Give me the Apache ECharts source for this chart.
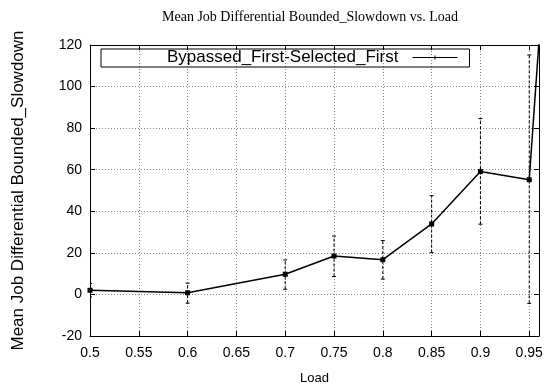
<!DOCTYPE html>
<html>
<head>
<meta charset="utf-8">
<script src="https://cdn.jsdelivr.net/npm/echarts@6/dist/echarts.min.js"></script>
<style>
  html, body { margin: 0; padding: 0; background: #fff; }
  #chart { width: 549px; height: 392px; }
</style>
</head>
<body>
<div id="chart"></div>
<script>
// Mean job differential bounded slowdown, with error bars, per load level
const loads = [0.5, 0.6, 0.7, 0.75, 0.8, 0.85, 0.9, 0.95, 0.96];
const means = [2.0, 0.8, 9.7, 18.5, 16.7, 33.9, 59.1, 55.2, 122];
const lows  = [-1.2, -4.2, 2.5, 8.6, 7.4, 20.1, 33.8, -4.3, null];
const highs = [5.3, 5.4, 16.6, 28.1, 25.9, 47.5, 84.6, 115.2, null];
const seriesName = 'Bypassed_First-Selected_First';

const lineData = loads.map((x, i) => [x, means[i]]);
const errData = loads.map((x, i) => [x, lows[i], highs[i]]).filter(d => d[1] !== null);

const sans = '"Liberation Sans", Arial, Helvetica, sans-serif';
const serif = '"Liberation Serif", "Times New Roman", serif';

const chart = echarts.init(document.getElementById('chart'), null, { renderer: 'canvas' });

const baseX = {
  type: 'value', min: 0.5, max: 0.96, interval: 0.05,
  axisLine: { show: true, onZero: false, lineStyle: { color: '#000', width: 1 } },
  axisTick: { show: true, inside: true, length: 5, lineStyle: { color: '#000' } }
};
const baseY = {
  type: 'value', min: -20, max: 120, interval: 20,
  axisLine: { show: true, onZero: false, lineStyle: { color: '#000', width: 1 } },
  axisTick: { show: true, inside: true, length: 5, lineStyle: { color: '#000' } }
};

chart.setOption({
  animation: false,
  backgroundColor: '#fff',
  title: {
    text: 'Mean Job Differential Bounded_Slowdown vs. Load',
    left: 157, top: 5,
    textStyle: { fontFamily: serif, fontSize: 14, fontWeight: 'normal', color: '#000' }
  },
  legend: {
    left: 101, top: 49,
    align: 'right',
    padding: [0, 12, 1, 66],
    borderColor: '#000', borderWidth: 1,
    itemWidth: 45, itemHeight: 5,
    data: [{
      name: seriesName,
      icon: 'path://M0,2h45v1h-45z M22,0.5h1v4h-1z'
    }],
    textStyle: { fontFamily: sans, fontSize: 17, color: '#000', padding: [0, 9, 0, 0] }
  },
  grid: { left: 90, right: 10, top: 45, bottom: 56, containLabel: false },
  xAxis: [
    Object.assign({}, baseX, {
      position: 'bottom',
      name: 'Load', nameLocation: 'middle', nameGap: 36,
      nameTextStyle: { fontFamily: sans, fontSize: 13, color: '#000' },
      axisLabel: {
        margin: 10, fontFamily: sans, fontSize: 14, color: '#000',
        formatter: v => (Math.abs(v * 20 - Math.round(v * 20)) < 1e-6 ? String(+v.toFixed(2)) : '')
      },
      splitLine: { show: true, lineStyle: { color: '#888', type: [1, 2], width: 1 } }
    }),
    Object.assign({}, baseX, {
      position: 'top',
      axisLabel: { show: false },
      splitLine: { show: false }
    })
  ],
  yAxis: [
    Object.assign({}, baseY, {
      position: 'left',
      name: 'Mean Job Differential Bounded_Slowdown', nameLocation: 'middle', nameGap: 63,
      nameTextStyle: { fontFamily: sans, fontSize: 17, color: '#000' },
      axisLabel: { margin: 8, fontFamily: sans, fontSize: 14, color: '#000' },
      splitLine: { show: true, lineStyle: { color: '#888', type: [1, 2], width: 1 } }
    }),
    Object.assign({}, baseY, {
      position: 'right',
      axisLabel: { show: false },
      splitLine: { show: false }
    })
  ],
  series: [
    {
      name: seriesName,
      type: 'line',
      data: lineData,
      clip: true,
      symbol: 'rect',
      symbolSize: 5,
      lineStyle: { color: '#000', width: 1.5 },
      itemStyle: { color: '#000' },
      z: 3
    },
    {
      name: 'errors',
      type: 'custom',
      data: errData,
      clip: true,
      renderItem: (params, api) => {
        const x = api.value(0);
        const lo = api.coord([x, api.value(1)]);
        const hi = api.coord([x, api.value(2)]);
        const cap = 2;
        const style = { stroke: '#000', lineWidth: 1, lineDash: [3, 2] };
        return {
          type: 'group',
          children: [
            { type: 'line', shape: { x1: lo[0], y1: lo[1], x2: hi[0], y2: hi[1] }, style: style },
            { type: 'line', shape: { x1: lo[0] - cap, y1: lo[1], x2: lo[0] + cap, y2: lo[1] }, style: { stroke: '#000', lineWidth: 1 } },
            { type: 'line', shape: { x1: hi[0] - cap, y1: hi[1], x2: hi[0] + cap, y2: hi[1] }, style: { stroke: '#000', lineWidth: 1 } }
          ]
        };
      },
      z: 2
    }
  ]
});
</script>
</body>
</html>
